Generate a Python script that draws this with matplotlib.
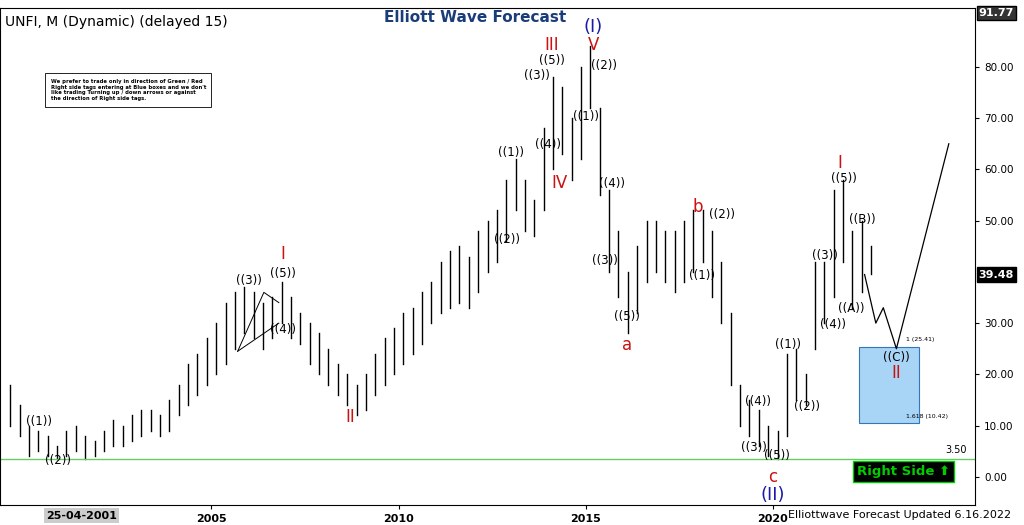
import matplotlib
matplotlib.use("Agg")
import matplotlib.pyplot as plt
from matplotlib.patches import Rectangle

start_year = 1999.625
lows = [10,8, 4,5,4,3.5, 4,5,3.5,4, 5,6,6,7, 8,9,8,9, 12,14,16,18, 20,22,25,28, 27,25,27,30,
        27,26,22,20, 18,16,14,12, 13,16,18,20, 22,24,26,30, 32,33,34,33, 36,40,42,46,
        52,48,47,52, 60,63,58,62, 72,55,40,35, 28,32,38,40, 38,36,38,40, 42,35,30,18,
        10,8,6,4, 3.5,8,15,14, 25,30,35,42, 33,36,39.5]
highs = [18,14, 10,9,8,6, 9,10,8,7, 9,11,10,12, 13,13,12,15, 18,22,24,27, 30,34,36,37, 36,34,35,38,
         35,32,30,28, 25,22,20,18, 20,24,27,29, 32,33,36,38, 42,44,45,43, 48,50,52,58,
         62,58,54,68, 78,76,70,80, 84,72,56,48, 40,45,50,50, 48,48,50,52, 52,48,42,32,
         18,15,13,10, 9,24,25,20, 42,42,56,58, 48,50,45]
proj_x = [2022.45, 2022.75, 2022.95, 2023.3, 2024.7]
proj_y = [39.48, 30, 33, 25, 65]
ytick_vals = [0, 10, 20, 30, 50, 60, 70, 80]

fig = plt.figure(figsize=(10.24, 5.25), dpi=100)
ax = fig.add_axes([0, 20/525, 975/1024, 497/525])
x0, x1 = 1999.35, 2025.4
ax.set_xlim(x0, x1); ax.set_ylim(-5.5, 91.5)
for i, (lo, hi) in enumerate(zip(lows, highs)):
    t = start_year + 0.25*i
    ax.plot([t, t], [lo, hi], color='black', lw=1.0)
ax.plot(proj_x, proj_y, color='black', lw=0.9)
ax.axhline(3.5, color='#66cc66', lw=1)
ax.add_patch(Rectangle((2022.3, 10.42), 1.6, 25.41-10.42, facecolor='#a8d4f5', edgecolor='#3377bb', lw=0.8))
ax.text(2023.55, 26.5, '1 (25.41)', fontsize=4.5)
ax.text(2023.55, 11.5, '1.618 (10.42)', fontsize=4.5)
ax.plot([2005.7, 2006.4, 2006.8], [24.5, 36, 34], color='black', lw=0.7)
ax.plot([2005.7, 2006.8], [24.5, 30], color='black', lw=0.7)

blk = [('((1))',2000.4,9.5),('((2))',2000.9,2),('((3))',2006.0,37),('((5))',2006.9,38.5),('((4))',2006.9,27.5),
       ('((1))',2013.0,62),('((2))',2012.9,45),('((3))',2013.7,77),('((5))',2014.1,80),('((4))',2014.0,63.5),
       ('((2))',2015.5,79),('((1))',2015.0,69),('((4))',2015.7,56),('((3))',2015.5,41),('((5))',2016.1,30),
       ('((2))',2018.65,50),('((1))',2018.1,38),('((4))',2019.6,13.5),('((3))',2019.5,4.5),('((5))',2020.1,2.8),
       ('((1))',2020.4,24.5),('((2))',2020.9,12.5),('((3))',2021.4,42),('((4))',2021.6,28.5),('((5))',2021.9,57),
       ('((A))',2022.1,31.5),('((B))',2022.4,49),('((C))',2023.3,22)]
for s, x, y in blk:
    ax.text(x, y, s, fontsize=8.5, ha='center', va='bottom')
red = [('I',2006.9,41.8),('II',2008.7,10),('III',2014.1,82.5),('IV',2014.3,55.5),('V',2015.2,82.5),
       ('a',2016.1,24),('b',2018.0,51),('c',2020.0,-1.8),('I',2021.8,59.5),('II',2023.3,18.5)]
for s, x, y in red:
    ax.text(x, y, s, fontsize=12, color='#cc1111', ha='center', va='bottom')
ax.text(2020.0, -5.3, '(II)', fontsize=13, color='#1a1aa6', ha='center', va='bottom')
ax.text(2015.2, 86, '(I)', fontsize=13, color='#1a1aa6', ha='center', va='bottom')

ax.text(2022.25, 0.3, 'Right Side ⬆', fontsize=9.5, color='#00cc00', fontweight='bold',
        bbox=dict(facecolor='black', edgecolor='#00cc00', boxstyle='square,pad=0.3'))
ax.text(2000.7, 75.5, "We prefer to trade only in direction of Green / Red\nRight side tags entering at Blue boxes and we don't\nlike trading Turning up / down arrows or against\nthe direction of Right side tags.",
        fontsize=3.8, fontweight='bold', va='center', bbox=dict(facecolor='white', edgecolor='black', lw=0.6))

ax.yaxis.tick_right()
ax.set_yticks(ytick_vals)
ax.set_yticklabels(['%.2f' % v for v in ytick_vals], fontsize=7.5)
ax.text(x1+0.1, 39.48, '39.48', fontsize=8, color='white', fontweight='bold', va='center',
        bbox=dict(facecolor='black', edgecolor='black', pad=1.5))
ax.text(x1+0.1, 90.5, '91.77', fontsize=8, color='white', fontweight='bold', va='center',
        bbox=dict(facecolor='#333333', edgecolor='black', pad=1.5))
ax.text(2024.6, 4.2, '3.50', fontsize=7, va='bottom')
ax.set_xticks([2005, 2010, 2015, 2020])
ax.set_xticklabels(['2005','2010','2015','2020'], fontsize=8, fontweight='bold')
ax.tick_params(length=3)
ax.text(0.005, 0.985, 'UNFI, M (Dynamic) (delayed 15)', transform=ax.transAxes, fontsize=10, va='top')
fig.text(0.375, 0.967, 'Elliott Wave Forecast', fontsize=11, fontweight='bold', color='#1a3d7a', va='center')
fig.text(0.77, 0.02, 'Elliottwave Forecast Updated 6.16.2022', fontsize=8, va='center')
fig.text(0.045, 0.018, '25-04-2001', fontsize=8, fontweight='bold', va='center',
         bbox=dict(facecolor='#cccccc', edgecolor='none', pad=1.5))
fig.savefig('out.png', dpi=100)
